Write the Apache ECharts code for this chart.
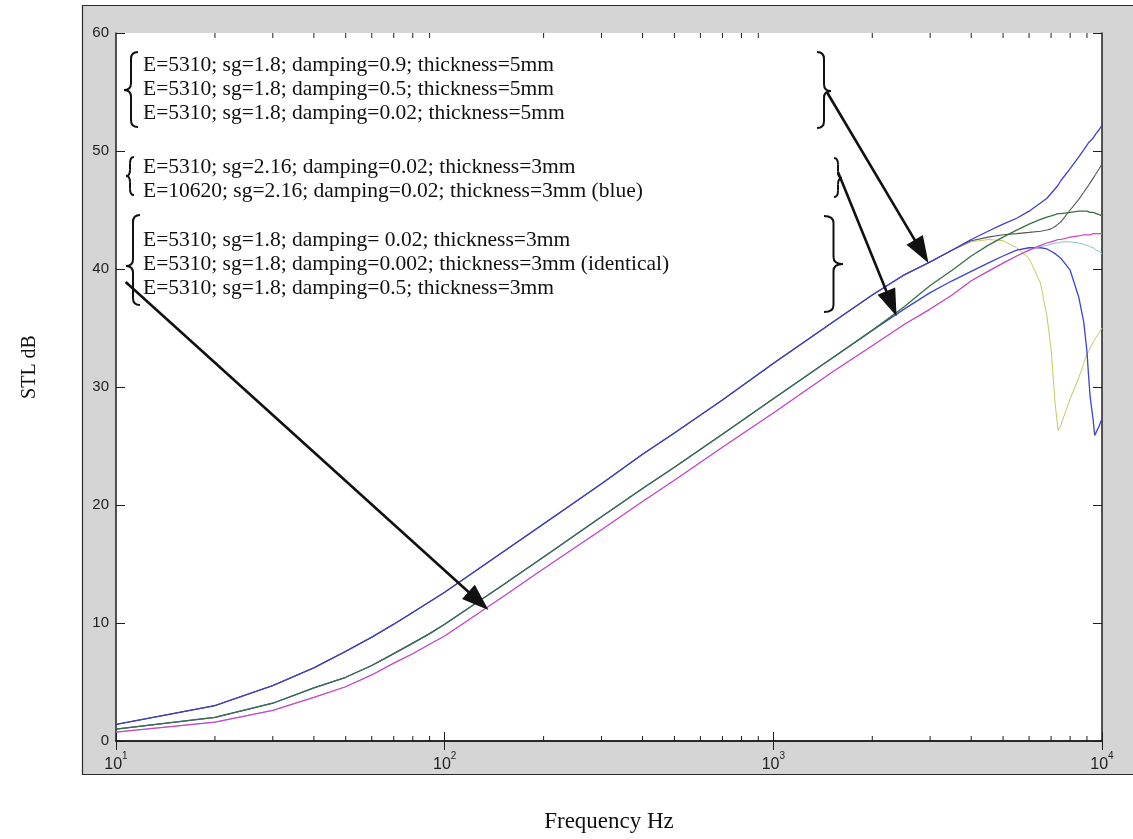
<!DOCTYPE html>
<html>
<head>
<meta charset="utf-8">
<script src="https://cdn.jsdelivr.net/npm/echarts@6/dist/echarts.min.js"></script>
<style>
  html, body { margin: 0; padding: 0; background: #fff; }
  #chart { width: 1133px; height: 839px; }
</style>
</head>
<body>
<div id="chart"></div>
<script>
// Frequencies (Hz) at which every STL curve is sampled
const freqHz = [10, 20, 30, 40, 50, 60, 70, 80, 90, 100,
  150, 200, 300, 400, 500, 700,
  1000, 1500, 2000, 2500, 3000, 3500, 4000, 4500, 5000, 5500, 6000, 6500,
  6800, 7000, 7200, 7350, 7500,
  8000, 8500, 8800, 9000, 9100, 9200, 9400, 9500, 9600, 9800, 10000];

// 5 mm panel, E=5310, sg=1.8
const stl5mmD09 = [1.4, 3.0, 4.7, 6.2, 7.6, 8.8, 9.9, 10.9, 11.8, 12.6,
  16.0, 18.4, 21.8, 24.3, 26.1, 28.9,
  32.0, 35.4, 37.8, 39.5, 40.6, 41.6, 42.5, 43.2, 43.8, 44.3, 44.9, 45.6,
  46.0, 46.4, 46.8, 47.1, 47.5,
  48.5, 49.5, 50.1, 50.5, 50.7, 50.8, 51.1, 51.3, 51.5, 51.8, 52.2];
const stl5mmD05 = [1.4, 3.0, 4.7, 6.2, 7.6, 8.8, 9.9, 10.9, 11.8, 12.6,
  16.0, 18.4, 21.8, 24.3, 26.1, 28.9,
  32.0, 35.4, 37.8, 39.5, 40.6, 41.6, 42.4, 42.7, 42.9, 43.0, 43.1, 43.2,
  43.3, 43.4, 43.6, 43.8, 44.0,
  45.0, 45.9, 46.5, 46.9, 47.1, 47.3, 47.7, 47.9, 48.1, 48.5, 48.9];
const stl5mmD002 = [1.4, 3.0, 4.7, 6.2, 7.6, 8.8, 9.9, 10.9, 11.8, 12.6,
  16.0, 18.4, 21.8, 24.3, 26.1, 28.9,
  32.0, 35.4, 37.8, 39.5, 40.6, 41.6, 42.3, 42.5, 42.4, 41.8, 40.9, 38.8,
  36.0, 33.2, 28.6, 26.3, 26.8,
  29.0, 30.8, 32.0, 32.8, 33.0, 33.3, 33.8, 34.0, 34.2, 34.6, 35.0];

// 3 mm panel, sg=2.16, damping=0.02
const stl3mmE5310 = [1.0, 2.0, 3.2, 4.5, 5.4, 6.4, 7.4, 8.3, 9.1, 9.9,
  13.2, 15.6, 19.0, 21.4, 23.2, 26.0,
  29.0, 32.4, 34.8, 36.8, 38.6, 39.9, 41.1, 42.0, 42.7, 43.3, 43.8, 44.2,
  44.4, 44.5, 44.6, 44.7, 44.7,
  44.8, 44.9, 44.9, 44.9, 44.9, 44.8, 44.8, 44.7, 44.7, 44.6, 44.5];
const stl3mmE10620 = [1.0, 2.0, 3.2, 4.5, 5.4, 6.4, 7.4, 8.3, 9.1, 9.9,
  13.2, 15.6, 19.0, 21.4, 23.2, 26.0,
  29.0, 32.4, 34.8, 36.6, 38.0, 39.0, 39.8, 40.5, 41.1, 41.6, 41.8, 41.8,
  41.7, 41.5, 41.3, 41.1, 40.9,
  39.9, 37.6, 35.5, 33.0, 31.0, 29.2, 27.2, 25.9, 26.0, 26.7, 27.3];

// 3 mm panel, E=5310, sg=1.8
const stl3mmD05 = [0.75, 1.6, 2.6, 3.7, 4.6, 5.6, 6.6, 7.4, 8.2, 8.9,
  12.2, 14.6, 17.9, 20.3, 22.1, 24.9,
  27.8, 31.2, 33.5, 35.3, 36.6, 37.8, 39.0, 39.8, 40.5, 41.1, 41.6, 42.0,
  42.2, 42.3, 42.4, 42.5, 42.5,
  42.7, 42.8, 42.9, 42.9, 42.9, 42.9, 43.0, 43.0, 43.0, 43.0, 43.0];
const stl3mmD002 = [0.75, 1.6, 2.6, 3.7, 4.6, 5.6, 6.6, 7.4, 8.2, 8.9,
  12.2, 14.6, 17.9, 20.3, 22.1, 24.9,
  27.8, 31.2, 33.5, 35.3, 36.6, 37.8, 39.0, 39.8, 40.5, 41.1, 41.6, 41.9,
  42.0, 42.1, 42.2, 42.2, 42.3,
  42.3, 42.2, 42.1, 42.0, 42.0, 41.9, 41.8, 41.7, 41.6, 41.5, 41.3];

// Minor log ticks between the decades
const minorTickHz = [20, 30, 40, 50, 60, 70, 80, 90,
  200, 300, 400, 500, 600, 700, 800, 900,
  2000, 3000, 4000, 5000, 6000, 7000, 8000, 9000];

// Annotation text, grouped per bracket
const groupTop = ['E=5310; sg=1.8; damping=0.9; thickness=5mm',
  'E=5310; sg=1.8; damping=0.5; thickness=5mm',
  'E=5310; sg=1.8; damping=0.02; thickness=5mm'];
const groupMid = ['E=5310; sg=2.16; damping=0.02; thickness=3mm',
  'E=10620; sg=2.16; damping=0.02; thickness=3mm (blue)'];
const groupLow = ['E=5310; sg=1.8; damping= 0.02; thickness=3mm',
  'E=5310; sg=1.8; damping=0.002; thickness=3mm (identical)',
  'E=5310; sg=1.8; damping=0.5; thickness=3mm'];

// Arrow endpoints in chart coordinates [Hz, dB]
const arrowFrom = [[1455, 55.0], [1574, 48.2], [10.7, 38.9]];
const arrowTo = [[2965, 40.5], [2371, 36.0], [135.9, 11.1]];

const pairs = vals => freqHz.map((f, i) => [f, vals[i]]);

const chart = echarts.init(document.getElementById('chart'));

const G = { left: 116, right: 31, top: 33, bottom: 98 };
const INK = '#1e1e1e';
const tickFont = 'Liberation Sans';
const serif = '"Liberation Serif", "DejaVu Serif", serif';

function lineSeries(name, vals, color, width) {
  return {
    name, type: 'line', data: pairs(vals), showSymbol: false, symbol: 'none',
    smooth: false, animation: false, silent: true,
    lineStyle: { color, width }, z: 3
  };
}

const logAxisBase = {
  type: 'log', logBase: 10, min: 10, max: 10000, splitNumber: 3,
  axisLine: { show: true, lineStyle: { color: INK, width: 1.5 } },
  axisTick: { show: true, inside: true, length: 9, lineStyle: { color: INK, width: 1 } },
  splitLine: { show: false },
  minorTick: { show: false }
};

chart.setOption({
  backgroundColor: '#ffffff',
  animation: false,
  grid: { left: G.left, right: G.right, top: G.top, bottom: G.bottom, show: false },
  xAxis: [
    Object.assign({}, logAxisBase, {
      position: 'bottom',
      name: 'Frequency Hz', nameLocation: 'middle', nameGap: 69,
      nameTextStyle: { fontFamily: serif, fontSize: 23, color: '#111' },
      axisLabel: {
        margin: 10,
        formatter: v => '{b|10}{s|' + Math.round(Math.log10(v)) + '}',
        rich: {
          b: { fontFamily: tickFont, fontSize: 16, color: INK, verticalAlign: 'bottom', lineHeight: 22 },
          s: { fontFamily: tickFont, fontSize: 10, color: INK, verticalAlign: 'top', lineHeight: 22 }
        }
      }
    }),
    Object.assign({}, logAxisBase, { position: 'top', axisLabel: { show: false } })
  ],
  yAxis: [
    {
      type: 'value', min: 0, max: 60, interval: 10, position: 'left',
      axisLine: { show: true, lineStyle: { color: INK, width: 1.5 } },
      axisTick: { show: true, inside: true, length: 9, lineStyle: { color: INK } },
      axisLabel: { margin: 7, fontFamily: tickFont, fontSize: 15, color: INK },
      splitLine: { show: false }
    },
    {
      type: 'value', min: 0, max: 60, interval: 10, position: 'right',
      axisLine: { show: true, lineStyle: { color: INK, width: 1.5 } },
      axisTick: { show: true, inside: true, length: 9, lineStyle: { color: INK } },
      axisLabel: { show: false },
      splitLine: { show: false }
    }
  ],
  series: [
    lineSeries('5mm damping=0.02', stl5mmD002, '#c9c862', 1),
    lineSeries('5mm damping=0.5', stl5mmD05, '#535853', 1.1),
    lineSeries('5mm damping=0.9', stl5mmD09, '#3f3fcc', 1.3),
    lineSeries('3mm E=10620', stl3mmE10620, '#3b45cc', 1.3),
    lineSeries('3mm E=5310 sg=2.16', stl3mmE5310, '#3a7040', 1.3),
    lineSeries('3mm damping=0.02/0.002', stl3mmD002, '#86c6cc', 1),
    lineSeries('3mm damping=0.5', stl3mmD05, '#cc44cc', 1.2),
    {
      name: 'minor ticks', type: 'custom', silent: true, animation: false, z: 4,
      data: minorTickHz.map(f => [f, 0]),
      renderItem(params, api) {
        const f = api.value(0);
        const b = api.coord([f, 0]);
        const t = api.coord([f, 60]);
        return {
          type: 'group', children: [
            { type: 'line', shape: { x1: b[0], y1: b[1], x2: b[0], y2: b[1] - 5 }, style: { stroke: INK, lineWidth: 1 } },
            { type: 'line', shape: { x1: t[0], y1: t[1], x2: t[0], y2: t[1] + 5 }, style: { stroke: INK, lineWidth: 1 } }
          ]
        };
      }
    }
  ]
});

// ---- decorations: frame, bracket braces, labels, arrows ----
const W = 1133, H = 839;
const plotX = G.left, plotY = G.top, plotW = W - G.left - G.right, plotH = H - G.top - G.bottom;

// A curly brace built from quadratic curves and straight strokes
function braceParts(xIn, xOut, y0, y1, ym) {
  const xm = (xIn + xOut) / 2;
  const r = Math.min(7, (y1 - y0) / 6);
  const st = { stroke: '#111', lineWidth: 2, fill: null };
  return [
    { type: 'bezierCurve', shape: { x1: xIn, y1: y0, cpx1: xm, cpy1: y0, x2: xm, y2: y0 + r }, style: st },
    { type: 'line', shape: { x1: xm, y1: y0 + r, x2: xm, y2: ym - r }, style: st },
    { type: 'bezierCurve', shape: { x1: xm, y1: ym - r, cpx1: xm, cpy1: ym, x2: xOut, y2: ym }, style: st },
    { type: 'bezierCurve', shape: { x1: xOut, y1: ym, cpx1: xm, cpy1: ym, x2: xm, y2: ym + r }, style: st },
    { type: 'line', shape: { x1: xm, y1: ym + r, x2: xm, y2: y1 - r }, style: st },
    { type: 'bezierCurve', shape: { x1: xm, y1: y1 - r, cpx1: xm, cpy1: y1, x2: xIn, y2: y1 }, style: st }
  ];
}

const braceSpecs = [
  [138, 124, 52, 127, 90],
  [134, 126, 157, 195, 176],
  [140, 126, 215, 305, 266],
  [817, 831, 52, 128, 91],
  [834, 842, 158, 197, 178],
  [824, 843, 216, 312, 264]
];

const textLines = [];
[[groupTop, 65], [groupMid, 167], [groupLow, 240]].forEach(([lines, y0]) => {
  lines.forEach((t, i) => textLines.push({ text: t, y: y0 + i * 24 }));
});

const graphics = [
  { type: 'rect', z: -10, silent: true,
    shape: { x: 82.5, y: 5.5, width: W, height: 769 },
    style: { fill: '#d5d5d5', stroke: '#2a2a2a', lineWidth: 1.2 } },
  { type: 'rect', z: -9, silent: true,
    shape: { x: plotX, y: plotY, width: plotW, height: plotH },
    style: { fill: '#ffffff' } },
  { type: 'text', z: 10, silent: true, x: 30, y: 367, rotation: Math.PI / 2,
    style: { text: 'STL dB', font: '20px ' + serif, fill: '#111', align: 'center', verticalAlign: 'middle' } }
];

braceSpecs.forEach(b => {
  graphics.push({ type: 'group', z: 10, silent: true, children: braceParts.apply(null, b) });
});

textLines.forEach(l => graphics.push({
  type: 'text', z: 10, silent: true, x: 143, y: l.y,
  style: { text: l.text, font: '21.5px ' + serif, fill: '#111', align: 'left', verticalAlign: 'middle' }
}));

arrowFrom.forEach((from, i) => {
  const s = chart.convertToPixel({ gridIndex: 0 }, from);
  const t = chart.convertToPixel({ gridIndex: 0 }, arrowTo[i]);
  const dx = t[0] - s[0], dy = t[1] - s[1];
  const len = Math.hypot(dx, dy);
  const ux = dx / len, uy = dy / len;
  const headL = 27, headW = 19;
  const bx = t[0] - ux * headL, by = t[1] - uy * headL;
  graphics.push({
    type: 'line', z: 11, silent: true,
    shape: { x1: s[0], y1: s[1], x2: bx + ux * 2, y2: by + uy * 2 },
    style: { stroke: '#111', lineWidth: 2.6 }
  });
  graphics.push({
    type: 'polygon', z: 11, silent: true,
    shape: { points: [[t[0], t[1]], [bx - uy * headW / 2, by + ux * headW / 2], [bx + uy * headW / 2, by - ux * headW / 2]] },
    style: { fill: '#111' }
  });
});

chart.setOption({ graphic: { elements: graphics } });
</script>
</body>
</html>
